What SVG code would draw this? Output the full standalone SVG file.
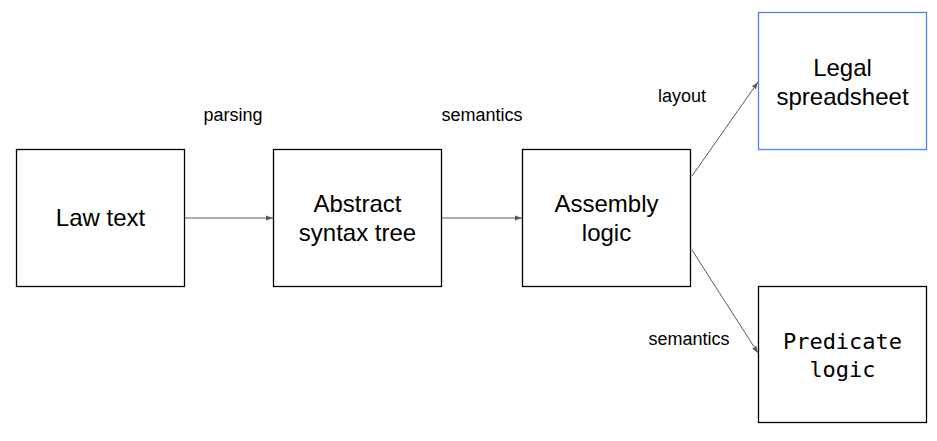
<svg xmlns="http://www.w3.org/2000/svg" width="937" height="441" viewBox="0 0 937 441">
<style>
.box{fill:#fff;stroke:#000;stroke-width:1.3}
.blue{stroke:#4a86e8}
.t{font-family:"Liberation Sans",Arial,sans-serif;font-size:24px;fill:#000;text-anchor:middle}
.m{font-family:"DejaVu Sans Mono",monospace;font-size:22px;fill:#000;text-anchor:middle}
.l{font-family:"Liberation Sans",Arial,sans-serif;font-size:18px;fill:#000;text-anchor:middle}
.c{stroke:#595959;stroke-width:1;fill:none;marker-end:url(#ah)}
</style>
<defs>
<marker id="ah" markerWidth="8" markerHeight="6" refX="7" refY="3" orient="auto" markerUnits="userSpaceOnUse">
<path d="M0,0.5 L7,3 L0,5.5 z" fill="#595959"/>
</marker>
</defs>
<rect width="937" height="441" fill="#fff"/>
<g id="connectors">
<line class="c" x1="184" y1="218" x2="273" y2="218"/>
<line class="c" x1="442" y1="218" x2="522" y2="218"/>
<line class="c" x1="692" y1="176" x2="758" y2="82"/>
<line class="c" x1="692" y1="250" x2="758" y2="353"/>
<text class="l" x="233" y="121">parsing</text>
<text class="l" x="482" y="121">semantics</text>
<text class="l" x="682" y="102">layout</text>
<text class="l" x="689" y="345">semantics</text>
</g>
<g id="law-text">
<rect class="box" x="16.5" y="149.5" width="168" height="137"/>
<text class="t" x="100.5" y="226">Law text</text>
</g>
<g id="ast">
<rect class="box" x="273.5" y="149.5" width="168" height="137"/>
<text class="t" x="357.5" y="212">Abstract</text>
<text class="t" x="357.5" y="241">syntax tree</text>
</g>
<g id="assembly">
<rect class="box" x="522.5" y="149.5" width="168" height="137"/>
<text class="t" x="606.5" y="212">Assembly</text>
<text class="t" x="606.5" y="241">logic</text>
</g>
<g id="legal">
<rect class="box blue" x="758.5" y="12.5" width="168" height="137"/>
<text class="t" x="842.5" y="76">Legal</text>
<text class="t" x="842.5" y="105">spreadsheet</text>
</g>
<g id="predicate">
<rect class="box" x="758.5" y="286.5" width="168" height="136"/>
<text class="m" x="842.5" y="349">Predicate</text>
<text class="m" x="842.5" y="377">logic</text>
</g>
</svg>
